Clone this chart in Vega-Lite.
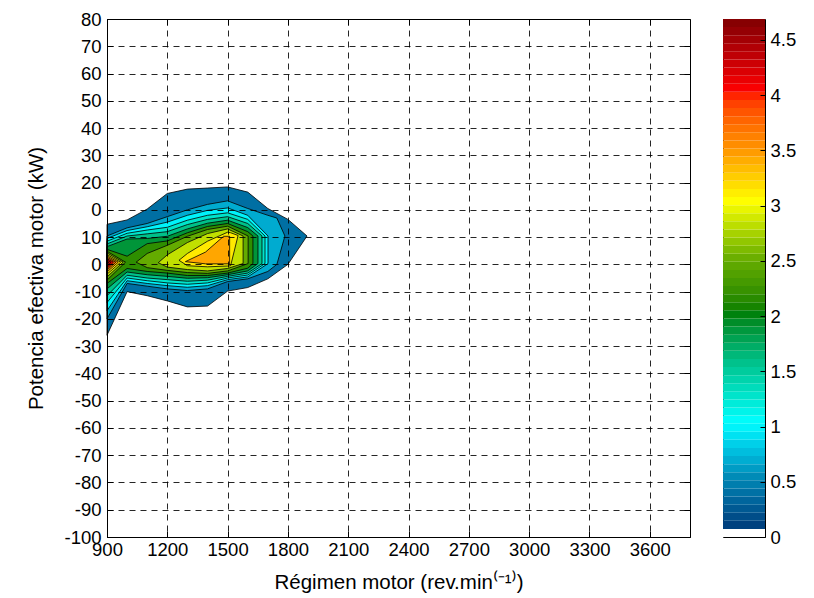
{
  "$schema": "https://vega.github.io/schema/vega-lite/v6.json",
  "background": "white",
  "padding": {"left": 26, "top": 9, "right": 5, "bottom": 5},
  "bounds": "flush",
  "spacing": 33,
  "config": {
    "font": "Liberation Sans",
    "view": {"stroke": "black", "strokeWidth": 1}
  },
  "resolve": {"scale": {"color": "independent", "x": "independent", "y": "independent"}},
  "hconcat": [
    {
      "width": 583,
      "height": 518,
      "data": {"values": [
        {"id":"r01","level":0.35,"x":900,"top":14.7,"bot":-26},
        {"id":"r01","level":0.35,"x":1000,"top":16.3,"bot":-10},
        {"id":"r01","level":0.35,"x":1100,"top":20.3,"bot":-11.5},
        {"id":"r01","level":0.35,"x":1200,"top":26,"bot":-13.4},
        {"id":"r01","level":0.35,"x":1300,"top":27.6,"bot":-15.6},
        {"id":"r01","level":0.35,"x":1400,"top":28,"bot":-15.3},
        {"id":"r01","level":0.35,"x":1500,"top":28.4,"bot":-9.8},
        {"id":"r01","level":0.35,"x":1600,"top":26.5,"bot":-8.5},
        {"id":"r01","level":0.35,"x":1700,"top":20.5,"bot":-5.3},
        {"id":"r01","level":0.35,"x":1800,"top":16.5,"bot":0},
        {"id":"r01","level":0.35,"x":1895,"top":10.4,"bot":10.4},
        {"id":"r02","level":0.65,"x":900,"top":10.4,"bot":-20},
        {"id":"r02","level":0.65,"x":1000,"top":13.4,"bot":-7},
        {"id":"r02","level":0.65,"x":1100,"top":15,"bot":-8},
        {"id":"r02","level":0.65,"x":1200,"top":17.5,"bot":-9},
        {"id":"r02","level":0.65,"x":1300,"top":20,"bot":-9.6},
        {"id":"r02","level":0.65,"x":1400,"top":22,"bot":-9},
        {"id":"r02","level":0.65,"x":1500,"top":23.3,"bot":-6.3},
        {"id":"r02","level":0.65,"x":1600,"top":20.5,"bot":-5.3},
        {"id":"r02","level":0.65,"x":1700,"top":18,"bot":-2.6},
        {"id":"r02","level":0.65,"x":1745,"top":17,"bot":0},
        {"id":"r02","level":0.65,"x":1785,"top":10.4,"bot":10.4},
        {"id":"r03","level":0.95,"x":900,"top":9.5,"bot":-17},
        {"id":"r03","level":0.95,"x":1000,"top":12.4,"bot":-6},
        {"id":"r03","level":0.95,"x":1100,"top":13.8,"bot":-7},
        {"id":"r03","level":0.95,"x":1200,"top":15.5,"bot":-7.8},
        {"id":"r03","level":0.95,"x":1300,"top":18,"bot":-8.4},
        {"id":"r03","level":0.95,"x":1400,"top":19.8,"bot":-7.8},
        {"id":"r03","level":0.95,"x":1500,"top":20.7,"bot":-5.6},
        {"id":"r03","level":0.95,"x":1600,"top":18,"bot":-4.6},
        {"id":"r03","level":0.95,"x":1701,"top":10.4,"bot":0.3},
        {"id":"r04","level":1.25,"x":900,"top":8.5,"bot":-14},
        {"id":"r04","level":1.25,"x":1000,"top":11.4,"bot":-5},
        {"id":"r04","level":1.25,"x":1100,"top":12.6,"bot":-6},
        {"id":"r04","level":1.25,"x":1200,"top":13.6,"bot":-6.8},
        {"id":"r04","level":1.25,"x":1300,"top":16.2,"bot":-7.3},
        {"id":"r04","level":1.25,"x":1400,"top":18,"bot":-6.8},
        {"id":"r04","level":1.25,"x":1500,"top":18.9,"bot":-5},
        {"id":"r04","level":1.25,"x":1600,"top":16.5,"bot":-3.9},
        {"id":"r04","level":1.25,"x":1686,"top":10.4,"bot":0.3},
        {"id":"r05","level":1.55,"x":900,"top":7.5,"bot":-11.5},
        {"id":"r05","level":1.55,"x":1000,"top":10.4,"bot":-4},
        {"id":"r05","level":1.55,"x":1100,"top":11.2,"bot":-5},
        {"id":"r05","level":1.55,"x":1200,"top":12,"bot":-5.6},
        {"id":"r05","level":1.55,"x":1300,"top":14.6,"bot":-6.2},
        {"id":"r05","level":1.55,"x":1400,"top":16.5,"bot":-5.8},
        {"id":"r05","level":1.55,"x":1500,"top":17.5,"bot":-4.4},
        {"id":"r05","level":1.55,"x":1600,"top":15,"bot":-3.2},
        {"id":"r05","level":1.55,"x":1671,"top":10.4,"bot":0.3},
        {"id":"r06","level":1.85,"x":900,"top":6.5,"bot":-9},
        {"id":"r06","level":1.85,"x":1000,"top":9.3,"bot":-2.8},
        {"id":"r06","level":1.85,"x":1100,"top":9.5,"bot":-3.8},
        {"id":"r06","level":1.85,"x":1200,"top":10.3,"bot":-4.4},
        {"id":"r06","level":1.85,"x":1300,"top":13,"bot":-5.1},
        {"id":"r06","level":1.85,"x":1400,"top":15.1,"bot":-4.9},
        {"id":"r06","level":1.85,"x":1500,"top":16.2,"bot":-3.8},
        {"id":"r06","level":1.85,"x":1600,"top":13.5,"bot":-2.4},
        {"id":"r06","level":1.85,"x":1651,"top":10.4,"bot":0.3},
        {"id":"r07","level":2.15,"x":900,"top":5.5,"bot":-7},
        {"id":"r07","level":2.15,"x":1000,"top":3,"bot":-1.5},
        {"id":"r07","level":2.15,"x":1100,"top":7.6,"bot":-2.6},
        {"id":"r07","level":2.15,"x":1200,"top":8.6,"bot":-3.2},
        {"id":"r07","level":2.15,"x":1300,"top":11.6,"bot":-4.1},
        {"id":"r07","level":2.15,"x":1400,"top":13.9,"bot":-4.1},
        {"id":"r07","level":2.15,"x":1500,"top":15,"bot":-3.2},
        {"id":"r07","level":2.15,"x":1600,"top":12,"bot":-1.4},
        {"id":"r07","level":2.15,"x":1626,"top":10.4,"bot":0.3},
        {"id":"r08","level":2.45,"x":1045,"top":0.8,"bot":0.8},
        {"id":"r08","level":2.45,"x":1100,"top":4,"bot":-1.2},
        {"id":"r08","level":2.45,"x":1200,"top":7,"bot":-2.2},
        {"id":"r08","level":2.45,"x":1300,"top":10.3,"bot":-3},
        {"id":"r08","level":2.45,"x":1400,"top":12.8,"bot":-3.3},
        {"id":"r08","level":2.45,"x":1500,"top":14,"bot":-2.4},
        {"id":"r08","level":2.45,"x":1602,"top":10.4,"bot":0.3},
        {"id":"r09","level":2.45,"x":900,"top":4.8,"bot":-5.8},
        {"id":"r09","level":2.45,"x":992,"top":0.8,"bot":0.8},
        {"id":"r10","level":2.8,"x":1155,"top":0.6,"bot":0.6},
        {"id":"r10","level":2.8,"x":1200,"top":3.5,"bot":-1},
        {"id":"r10","level":2.8,"x":1300,"top":8,"bot":-1.9},
        {"id":"r10","level":2.8,"x":1400,"top":11.3,"bot":-2.4},
        {"id":"r10","level":2.8,"x":1500,"top":13,"bot":-1.5},
        {"id":"r10","level":2.8,"x":1577,"top":10.4,"bot":0.3},
        {"id":"r11","level":2.8,"x":900,"top":4.2,"bot":-4.6},
        {"id":"r11","level":2.8,"x":980,"top":0.8,"bot":0.8},
        {"id":"r12","level":3.1,"x":1258,"top":1.5,"bot":1.5},
        {"id":"r12","level":3.1,"x":1300,"top":4,"bot":-0.5},
        {"id":"r12","level":3.1,"x":1400,"top":8.5,"bot":-0.9},
        {"id":"r12","level":3.1,"x":1500,"top":11.8,"bot":-0.6},
        {"id":"r12","level":3.1,"x":1515,"top":11.6,"bot":-0.5},
        {"id":"r12","level":3.1,"x":1552,"top":10.6,"bot":10.6},
        {"id":"r13","level":3.1,"x":900,"top":3.6,"bot":-3.6},
        {"id":"r13","level":3.1,"x":968,"top":0.8,"bot":0.8},
        {"id":"r14","level":3.4,"x":1290,"top":1,"bot":1},
        {"id":"r14","level":3.4,"x":1390,"top":4.5,"bot":0.2},
        {"id":"r14","level":3.4,"x":1480,"top":10.3,"bot":0.2},
        {"id":"r14","level":3.4,"x":1510,"top":10.3,"bot":0.2},
        {"id":"r15","level":3.4,"x":900,"top":3.1,"bot":-2.8},
        {"id":"r15","level":3.4,"x":956,"top":0.8,"bot":0.8},
        {"id":"r16","level":3.7,"x":900,"top":2.6,"bot":-2.1},
        {"id":"r16","level":3.7,"x":944,"top":0.8,"bot":0.8},
        {"id":"r17","level":4.0,"x":900,"top":2.1,"bot":-1.5},
        {"id":"r17","level":4.0,"x":932,"top":0.8,"bot":0.8},
        {"id":"r18","level":4.3,"x":900,"top":1.6,"bot":-0.9},
        {"id":"r18","level":4.3,"x":920,"top":0.8,"bot":0.8},
        {"id":"r19","level":4.6,"x":900,"top":1.1,"bot":-0.3},
        {"id":"r19","level":4.6,"x":908,"top":0.8,"bot":0.8}
      ]},
      "resolve": {"axis": {"x": "independent", "y": "independent"}},
      "layer": [
        {
          "mark": {"type": "area", "stroke": "black", "strokeWidth": 0.8, "interpolate": "linear", "fillOpacity": 1},
          "encoding": {
            "x": {
              "field": "x", "type": "quantitative",
              "scale": {"domain": [900, 3800], "nice": false, "zero": false},
              "axis": {
                "values": [900, 1200, 1500, 1800, 2100, 2400, 2700, 3000, 3300, 3600],
                "labelExpr": "'' + datum.value",
                "labelFlush": false, "labelOverlap": false,
                "grid": true, "gridDash": [6, 5], "gridColor": "black", "gridOpacity": 0.85, "gridWidth": 1,
                "domain": true, "domainColor": "black", "domainWidth": 1,
                "ticks": true, "tickSize": -6, "tickColor": "black", "tickWidth": 1,
                "labelFontSize": 18.5, "labelColor": "black", "labelPadding": 9,
                "title": "Régimen motor (rev.min⁽⁻¹⁾)",
                "titleFontSize": 20.5, "titleFontWeight": "normal", "titleColor": "black", "titlePadding": 14,
                "zindex": 1
              }
            },
            "y": {
              "field": "top", "type": "quantitative",
              "scale": {"domain": [-100, 90], "nice": false, "zero": false},
              "axis": {
                "values": [-100, -90, -80, -70, -60, -50, -40, -30, -20, -10, 0, 10, 20, 30, 40, 50, 60, 70, 80, 90],
                "labelExpr": "datum.value == 20 ? '0' : '' + (datum.value > 20 ? datum.value - 10 : datum.value)",
                "labelFlush": false, "labelOverlap": false,
                "grid": true, "gridDash": [6, 5], "gridColor": "black", "gridOpacity": 0.85, "gridWidth": 1,
                "domain": true, "domainColor": "black", "domainWidth": 1,
                "ticks": true, "tickSize": -6, "tickColor": "black", "tickWidth": 1,
                "labelFontSize": 18.5, "labelColor": "black", "labelPadding": 12,
                "title": "Potencia efectiva motor (kW)",
                "titleFontSize": 20.5, "titleFontWeight": "normal", "titleColor": "black", "titlePadding": 17,
                "zindex": 1
              }
            },
            "y2": {"field": "bot"},
            "color": {
              "field": "level", "type": "quantitative",
              "scale": {
                "domain": [0, 0.06, 0.0733, 0.5, 1, 1.5, 2, 2.5, 3, 3.5, 4, 4.69],
                "range": ["#ffffff", "#ffffff", "#00417f", "#0088b4", "#00ffff", "#00c896", "#007f00", "#6cb000", "#ffff00", "#ff9000", "#ff0000", "#7a0000"]
              },
              "legend": null
            },
            "detail": {"field": "id"}
          }
        },
        {
          "mark": {"type": "area", "opacity": 0},
          "encoding": {
            "x": {
              "field": "x", "type": "quantitative",
              "axis": {
                "orient": "top",
                "values": [900, 1200, 1500, 1800, 2100, 2400, 2700, 3000, 3300, 3600],
                "labels": false, "grid": false, "domain": false,
                "ticks": true, "tickSize": -6, "tickColor": "black", "tickWidth": 1,
                "title": null
              }
            },
            "y": {
              "field": "top", "type": "quantitative",
              "axis": {
                "orient": "right",
                "values": [-100, -90, -80, -70, -60, -50, -40, -30, -20, -10, 0, 10, 20, 30, 40, 50, 60, 70, 80, 90],
                "labels": false, "grid": false, "domain": false,
                "ticks": true, "tickSize": -6, "tickColor": "black", "tickWidth": 1,
                "title": null
              }
            },
            "y2": {"field": "bot"},
            "detail": {"field": "id"}
          }
        }
      ]
    },
    {
      "width": 42,
      "height": 518,
      "data": {"values": [
        {"lo":0,"hi":0.0733},{"lo":0.0733,"hi":0.1466},{"lo":0.1466,"hi":0.2198},{"lo":0.2198,"hi":0.2931},
        {"lo":0.2931,"hi":0.3664},{"lo":0.3664,"hi":0.4397},{"lo":0.4397,"hi":0.513},{"lo":0.513,"hi":0.5863},
        {"lo":0.5863,"hi":0.6595},{"lo":0.6595,"hi":0.7328},{"lo":0.7328,"hi":0.8061},{"lo":0.8061,"hi":0.8794},
        {"lo":0.8794,"hi":0.9527},{"lo":0.9527,"hi":1.0259},{"lo":1.0259,"hi":1.0992},{"lo":1.0992,"hi":1.1725},
        {"lo":1.1725,"hi":1.2458},{"lo":1.2458,"hi":1.3191},{"lo":1.3191,"hi":1.3923},{"lo":1.3923,"hi":1.4656},
        {"lo":1.4656,"hi":1.5389},{"lo":1.5389,"hi":1.6122},{"lo":1.6122,"hi":1.6855},{"lo":1.6855,"hi":1.7588},
        {"lo":1.7588,"hi":1.832},{"lo":1.832,"hi":1.9053},{"lo":1.9053,"hi":1.9786},{"lo":1.9786,"hi":2.0519},
        {"lo":2.0519,"hi":2.1252},{"lo":2.1252,"hi":2.1984},{"lo":2.1984,"hi":2.2717},{"lo":2.2717,"hi":2.345},
        {"lo":2.345,"hi":2.4183},{"lo":2.4183,"hi":2.4916},{"lo":2.4916,"hi":2.5648},{"lo":2.5648,"hi":2.6381},
        {"lo":2.6381,"hi":2.7114},{"lo":2.7114,"hi":2.7847},{"lo":2.7847,"hi":2.858},{"lo":2.858,"hi":2.9313},
        {"lo":2.9313,"hi":3.0045},{"lo":3.0045,"hi":3.0778},{"lo":3.0778,"hi":3.1511},{"lo":3.1511,"hi":3.2244},
        {"lo":3.2244,"hi":3.2977},{"lo":3.2977,"hi":3.3709},{"lo":3.3709,"hi":3.4442},{"lo":3.4442,"hi":3.5175},
        {"lo":3.5175,"hi":3.5908},{"lo":3.5908,"hi":3.6641},{"lo":3.6641,"hi":3.7373},{"lo":3.7373,"hi":3.8106},
        {"lo":3.8106,"hi":3.8839},{"lo":3.8839,"hi":3.9572},{"lo":3.9572,"hi":4.0305},{"lo":4.0305,"hi":4.1038},
        {"lo":4.1038,"hi":4.177},{"lo":4.177,"hi":4.2503},{"lo":4.2503,"hi":4.3236},{"lo":4.3236,"hi":4.3969},
        {"lo":4.3969,"hi":4.4702},{"lo":4.4702,"hi":4.5434},{"lo":4.5434,"hi":4.6167},{"lo":4.6167,"hi":4.69}
      ]},
      "mark": {"type": "rect"},
      "encoding": {
        "y": {
          "field": "lo", "type": "quantitative",
          "scale": {"domain": [0, 4.69], "nice": false, "zero": false},
          "axis": {
            "orient": "right",
            "values": [0, 0.5, 1, 1.5, 2, 2.5, 3, 3.5, 4, 4.5],
            "labelExpr": "'' + datum.value",
            "labelFlush": false, "labelOverlap": false,
            "grid": false, "domain": false,
            "ticks": true, "tickSize": -5, "tickColor": "black", "tickWidth": 1,
            "labelFontSize": 18.5, "labelColor": "black", "labelPadding": 10,
            "title": null, "zindex": 1
          }
        },
        "y2": {"field": "hi"},
        "color": {
          "field": "lo", "type": "quantitative",
          "scale": {
            "domain": [0, 0.06, 0.0733, 0.5, 1, 1.5, 2, 2.5, 3, 3.5, 4, 4.69],
            "range": ["#ffffff", "#ffffff", "#00417f", "#0088b4", "#00ffff", "#00c896", "#007f00", "#6cb000", "#ffff00", "#ff9000", "#ff0000", "#7a0000"]
          },
          "legend": null
        }
      }
    }
  ]
}
